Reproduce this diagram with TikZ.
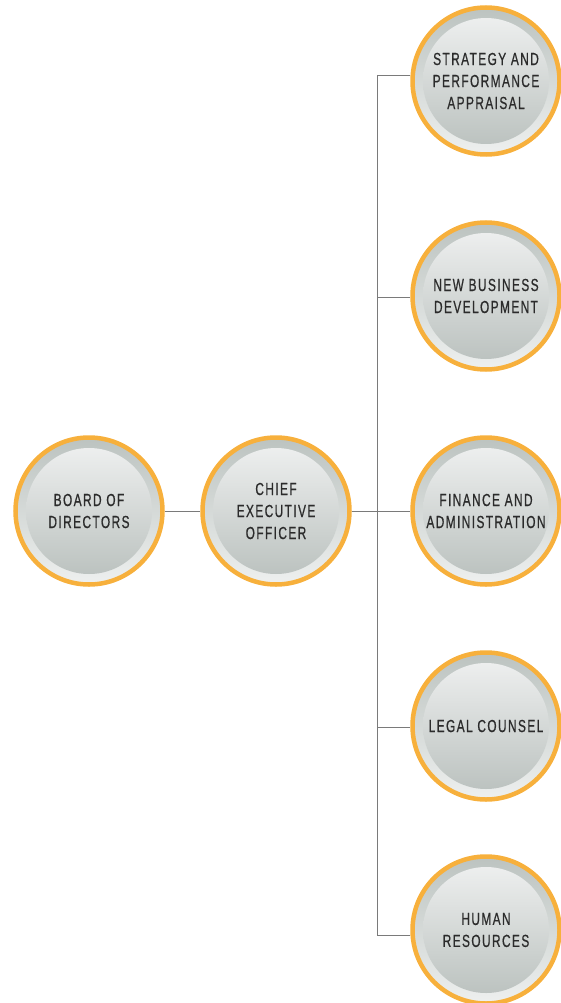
\documentclass[tikz,border=0pt]{standalone}
\usepackage{fontspec}
\setsansfont{Liberation Sans}[FakeStretch=0.68,LetterSpace=8,FakeBold=0.6]
\usepackage{xcolor}
\usetikzlibrary{calc}
\definecolor{ring}{HTML}{F7B03C}
\definecolor{rimtop}{HTML}{BCC3C0}
\definecolor{rimbot}{HTML}{EEF0EF}
\definecolor{disktop}{HTML}{F1F2F2}
\definecolor{diskbot}{HTML}{B8BFBC}
\definecolor{wire}{HTML}{7A7A7A}
\definecolor{ink}{HTML}{2B2B2B}
\tikzset{
  unit/.style={circle, draw=ring, line width=4.5pt, minimum size=147pt, inner sep=0pt,
    top color=rimtop, bottom color=rimbot,
    path picture={\shade[top color=disktop, bottom color=diskbot]
      (path picture bounding box.center) circle (63pt);},
    text=ink, align=center, font=\sffamily\fontsize{17.5}{22}\selectfont},
  wire/.style={draw=wire, line width=0.8pt},
}
\begin{document}
\begin{tikzpicture}[x=1pt,y=-1pt]
  \useasboundingbox (0,0) rectangle (561,1003);

  % spine joints
  \coordinate (j1) at (377,75);
  \coordinate (j2) at (377,297);
  \coordinate (j3) at (377,510);
  \coordinate (j4) at (377,727);
  \coordinate (j5) at (377,935);

  \node[unit] (board)    at (89,511)  {BOARD OF\\DIRECTORS};
  \node[unit] (ceo)      at (276,511) {CHIEF\\EXECUTIVE\\OFFICER};
  \node[unit] (strategy) at (486,81)  {STRATEGY AND\\PERFORMANCE\\APPRAISAL};
  \node[unit] (newbiz)   at (486,296) {NEW BUSINESS\\DEVELOPMENT};
  \node[unit] (finance)  at (486,511) {FINANCE AND\\ADMINISTRATION};
  \node[unit] (legal)    at (486,726) {LEGAL COUNSEL};
  \node[unit] (hr)       at (486,930) {HUMAN\\RESOURCES};

  \draw[wire] (board) -- (ceo);
  \draw[wire] (ceo) -- (finance);
  \draw[wire] (j1) -- (j5);
  \draw[wire] (j1) -- (strategy.west |- j1);
  \draw[wire] (j2) -- (newbiz.west |- j2);
  \draw[wire] (j4) -- (legal.west |- j4);
  \draw[wire] (j5) -- (hr.west |- j5);
\end{tikzpicture}
\end{document}
